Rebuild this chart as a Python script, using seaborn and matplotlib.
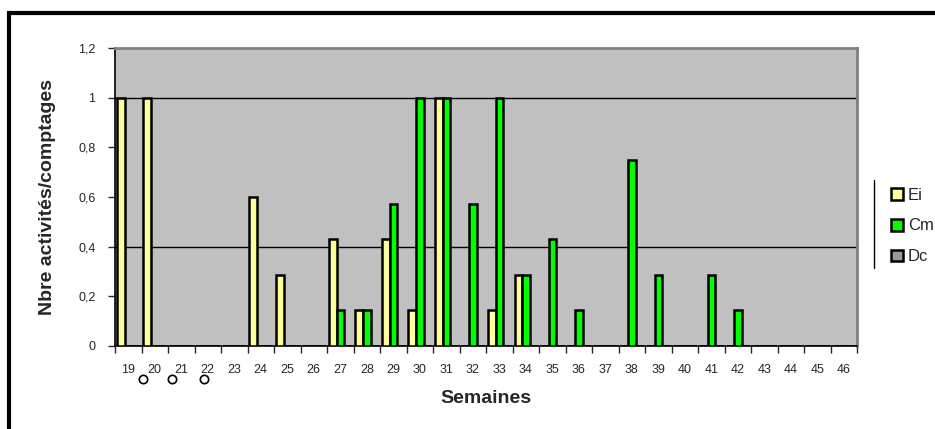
import numpy as np
import pandas as pd
import matplotlib
matplotlib.use("Agg")
import matplotlib.pyplot as plt
import seaborn as sns
from matplotlib.patches import Rectangle
from matplotlib.lines import Line2D

weeks = [str(w) for w in range(19, 47)]
ei = [1, 1, 0, 0, 0, 0.6, 0.286, 0, 0.429, 0.143, 0.429, 0.143, 1, 0, 0.143, 0.286,
      0, 0, 0, 0, 0, 0, 0, 0, 0, 0, 0, 0]
cm = [0, 0, 0, 0, 0, 0, 0, 0, 0.143, 0.143, 0.571, 1, 1, 0.571, 1, 0.286,
      0.429, 0.143, 0, 0.75, 0.286, 0, 0.286, 0.143, 0, 0, 0, 0]
dc = [0] * 28
series = ["Ei", "Cm", "Dc"]
colors = ["#FFFF99", "#00FF00", "#999999"]
circle_pos = [0.55, 1.64, 2.85]

df = pd.DataFrame({"semaine": weeks * 3, "valeur": ei + cm + dc,
                   "serie": [s for s in series for _ in weeks]})

sns.set_style("white")
plt.rcParams["font.family"] = ["Liberation Sans", "DejaVu Sans"]

fig = plt.figure(figsize=(9.35, 4.29), dpi=100)
ax = fig.add_axes([0.123, 0.1935, 0.7936, 0.6947])
ax.set_facecolor("#C0C0C0")

sns.barplot(data=df, x="semaine", y="valeur", hue="serie", order=weeks,
            hue_order=series, palette=colors, saturation=1, width=0.85,
            edgecolor="black", linewidth=1.8, errorbar=None, ax=ax, zorder=3)

for y in [0.4, 1.0]:
    ax.axhline(y, color="black", lw=1, zorder=1)

ax.set_ylim(0, 1.2)
ax.set_xlim(-0.5, len(weeks) - 0.5)
ax.set_yticks(np.arange(0, 1.21, 0.2))
ax.set_yticklabels(["0", "0,2", "0,4", "0,6", "0,8", "1", "1,2"])
ax.tick_params(axis="y", direction="out", length=5, width=1, labelsize=9, pad=9, left=True)
ax.tick_params(axis="x", which="major", length=0, labelsize=9, pad=13)
ax.set_xticks(np.arange(-0.5, len(weeks), 1), minor=True)
ax.tick_params(axis="x", which="minor", direction="out", length=5, width=1, bottom=True)

for s in ["top", "right"]:
    ax.spines[s].set_color("#808080")
    ax.spines[s].set_linewidth(2)
for s in ["left", "bottom"]:
    ax.spines[s].set_color("black")
    ax.spines[s].set_linewidth(1.2)

ax.set_xlabel("Semaines", fontsize=14, fontweight="bold", labelpad=10)
ax.set_ylabel("Nbre activités/comptages", fontsize=14, fontweight="bold", labelpad=16)

ax.plot(circle_pos, [-0.11] * 3, "o", ms=6, mfc="none", mec="black", mew=1.2,
        transform=ax.get_xaxis_transform(), clip_on=False)

handles, labels = ax.get_legend_handles_labels()
ax.legend_.remove()
fig.legend(handles, labels, loc="center left", bbox_to_anchor=(0.937, 1 - 226 / 429),
           frameon=False, fontsize=12, handlelength=0.7, handleheight=0.7,
           handletextpad=0.3, labelspacing=0.95)
fig.add_artist(Line2D([874 / 935, 874 / 935], [1 - 180 / 429, 1 - 268 / 429],
                      color="black", lw=1, transform=fig.transFigure))
fig.add_artist(Rectangle((9 / 935, -0.1), 1.2, 1 - 13 / 429 + 0.1, fill=False,
                         edgecolor="black", lw=3, transform=fig.transFigure))

fig.savefig("out.png", dpi=100)
